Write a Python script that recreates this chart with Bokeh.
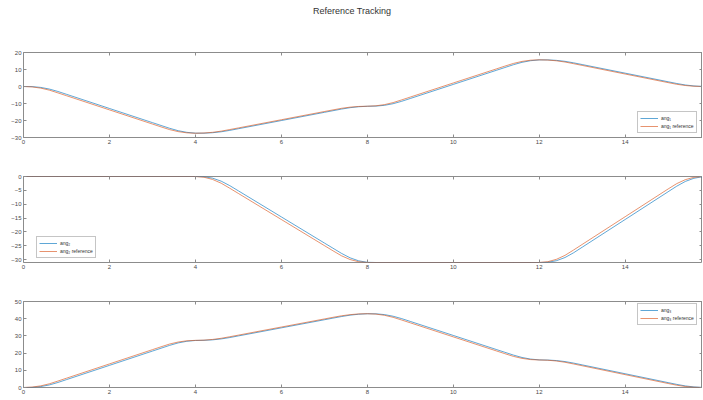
from bokeh.plotting import figure
from bokeh.models import Range1d, LinearAxis, FixedTicker, Legend, LegendItem, Div
from bokeh.layouts import column
from bokeh.embed import file_html
from bokeh.resources import INLINE

# ---- data ----
t = [0, 0.2, 0.4, 0.6, 0.8, 1.0, 2.0, 3.0, 3.2, 3.4, 3.6, 3.8, 4.0,
     4.2, 4.4, 4.6, 4.8, 5.0, 6.0, 7.0, 7.2, 7.4, 7.6, 7.8, 8.0,
     8.2, 8.4, 8.6, 8.8, 9.0, 10.0, 11.0, 11.2, 11.4, 11.6, 11.8, 12.0,
     12.2, 12.4, 12.6, 12.8, 13.0, 14.0, 15.0, 15.2, 15.4, 15.6, 15.8]

ang1_ref = [0, -0.24, -0.95, -2.14, -3.75, -5.42, -13.75, -22.08, -23.75, -25.36, -26.55, -27.26, -27.5,
            -27.36, -26.95, -26.26, -25.33, -24.37, -19.55, -14.73, -13.77, -12.84, -12.15, -11.74, -11.6,
            -11.36, -10.66, -9.47, -7.88, -6.22, 2.05, 10.32, 11.98, 13.57, 14.76, 15.46, 15.7,
            15.56, 15.12, 14.4, 13.42, 12.41, 7.34, 2.28, 1.3, 0.58, 0.15, 0.0]
ang1_act = [0, -0.06, -0.54, -1.49, -2.92, -4.58, -12.92, -21.25, -22.92, -24.58, -26.01, -26.96, -27.44,
            -27.47, -27.19, -26.64, -25.81, -24.85, -20.03, -15.21, -14.25, -13.29, -12.46, -11.91, -11.63,
            -11.54, -11.07, -10.12, -8.71, -7.05, 1.22, 9.5, 11.15, 12.81, 14.22, 15.17, 15.64,
            15.66, 15.37, 14.8, 13.93, 12.92, 7.85, 2.79, 1.77, 0.9, 0.33, 0.04]

ang2_ref = [0, 0, 0, 0, 0, 0, 0, 0, 0, 0, 0, 0, 0,
            -0.27, -1.07, -2.42, -4.23, -6.11, -15.5, -24.89, -26.77, -28.58, -29.93, -30.73, -31.0,
            -31.0, -31.0, -31.0, -31.0, -31.0, -31.0, -31.0, -31.0, -31.0, -31.0, -31.0, -31.0,
            -30.71, -29.86, -28.43, -26.5, -24.5, -14.5, -4.5, -2.57, -1.14, -0.29, 0.0]
ang2_act = [0, 0, 0, 0, 0, 0, 0, 0, 0, 0, 0, 0, 0,
            -0.07, -0.6, -1.68, -3.29, -5.17, -14.56, -23.96, -25.83, -27.71, -29.32, -30.4, -30.93,
            -31.0, -31.0, -31.0, -31.0, -31.0, -31.0, -31.0, -31.0, -31.0, -31.0, -31.0, -31.0,
            -30.93, -30.36, -29.21, -27.5, -25.5, -15.5, -5.5, -3.5, -1.79, -0.64, -0.07]

ang3_ref = [0, 0.24, 0.95, 2.14, 3.74, 5.4, 13.7, 22.0, 23.66, 25.27, 26.45, 27.16, 27.4,
            27.53, 27.94, 28.61, 29.51, 30.45, 35.15, 39.85, 40.79, 41.69, 42.36, 42.77, 42.9,
            42.67, 41.97, 40.8, 39.23, 37.6, 29.45, 21.3, 19.67, 18.1, 16.93, 16.23, 16.0,
            15.85, 15.41, 14.67, 13.68, 12.65, 7.48, 2.32, 1.33, 0.59, 0.15, 0.0]
ang3_act = [0, 0.06, 0.53, 1.48, 2.91, 4.57, 12.87, 21.17, 22.83, 24.49, 25.92, 26.87, 27.34,
            27.43, 27.7, 28.24, 29.04, 29.98, 34.68, 39.38, 40.32, 41.26, 42.06, 42.6, 42.87,
            42.84, 42.38, 41.44, 40.05, 38.42, 30.27, 22.11, 20.48, 18.85, 17.46, 16.52, 16.06,
            15.96, 15.67, 15.08, 14.19, 13.16, 8.0, 2.84, 1.81, 0.92, 0.33, 0.04]

x_ticks = [0, 2, 4, 6, 8, 10, 12, 14]
y1_ticks = [-30, -20, -10, 0, 10, 20]
y2_ticks = [-30, -25, -20, -15, -10, -5, 0]
y3_ticks = [0, 10, 20, 30, 40, 50]

title_text = "Reference Tracking"
labels1 = ["ang\u2081", "ang\u2081 reference"]
labels2 = ["ang\u2082", "ang\u2082 reference"]
labels3 = ["ang\u2083", "ang\u2083 reference"]

BLUE = "#0072BD"
ORANGE = "#D95319"
AXC = "#8c8c8c"
TXT = "#4a4a4a"
FONT = "Liberation Sans"
W = 702


def style_axis(ax, ticks, show_labels):
    ax.ticker = FixedTicker(ticks=ticks)
    ax.axis_line_color = None
    ax.major_tick_in = 3
    ax.major_tick_out = 0
    ax.major_tick_line_color = AXC
    ax.major_tick_line_width = 1
    ax.minor_tick_line_color = None
    ax.major_label_text_font = FONT
    ax.major_label_text_color = TXT
    ax.major_label_text_font_size = "6px"
    if show_labels:
        ax.major_label_standoff = 2
    else:
        ax.major_label_text_alpha = 0
        ax.major_label_standoff = 0


def make(h, ylo, yhi, yticks, bt, bb, act, ref, labels, loc):
    p = figure(width=W, height=h, x_range=Range1d(0, 15.8), y_range=Range1d(ylo, yhi),
               output_backend="svg", toolbar_location=None,
               min_border_left=23, min_border_right=0, min_border_top=bt, min_border_bottom=bb)
    p.xgrid.visible = False
    p.ygrid.visible = False
    p.outline_line_color = AXC
    p.outline_line_width = 1
    p.background_fill_color = "white"
    p.border_fill_color = "white"
    style_axis(p.xaxis[0], x_ticks, True)
    style_axis(p.yaxis[0], yticks, True)
    top = LinearAxis()
    style_axis(top, x_ticks, False)
    p.add_layout(top, "above")
    right = LinearAxis()
    style_axis(right, yticks, False)
    p.add_layout(right, "right")

    r_act = p.line(t, act, line_color=BLUE, line_width=0.9, line_alpha=0.7)
    r_ref = p.line(t, ref, line_color=ORANGE, line_width=0.9, line_alpha=0.7)

    leg = Legend(items=[LegendItem(label=labels[0], renderers=[r_act]),
                        LegendItem(label=labels[1], renderers=[r_ref])],
                 location=loc)
    leg.label_text_font = FONT
    leg.label_text_font_size = "5px"
    leg.label_text_color = "#333333"
    leg.label_height = 8
    leg.glyph_height = 8
    leg.glyph_width = 18
    leg.label_standoff = 3
    leg.spacing = 0
    leg.padding = 2
    leg.margin = 0
    leg.border_line_color = AXC
    leg.border_line_width = 1
    leg.background_fill_alpha = 1
    p.add_layout(leg, "center")
    return p


title_div = Div(text=title_text, width=W, height=22, margin=0,
                styles={"font-family": "Liberation Sans", "font-size": "9px", "color": "#333333",
                        "padding-left": "313px", "padding-top": "6px", "box-sizing": "border-box",
                        "line-height": "11px", "white-space": "nowrap"})

p1 = make(134, -30, 20, y1_ticks, 30, 19, ang1_act, ang1_ref, labels1, (614, 4))
p2 = make(124, -31, 0, y2_ticks, 20, 18, ang2_act, ang2_ref, labels2, (13, 4))
p3 = make(119, 0, 50, y3_ticks, 21, 12, ang3_act, ang3_ref, labels3, (614, 62))

layout = column(title_div, p1, p2, p3)
open("out.html", "w").write(file_html(layout, INLINE))
